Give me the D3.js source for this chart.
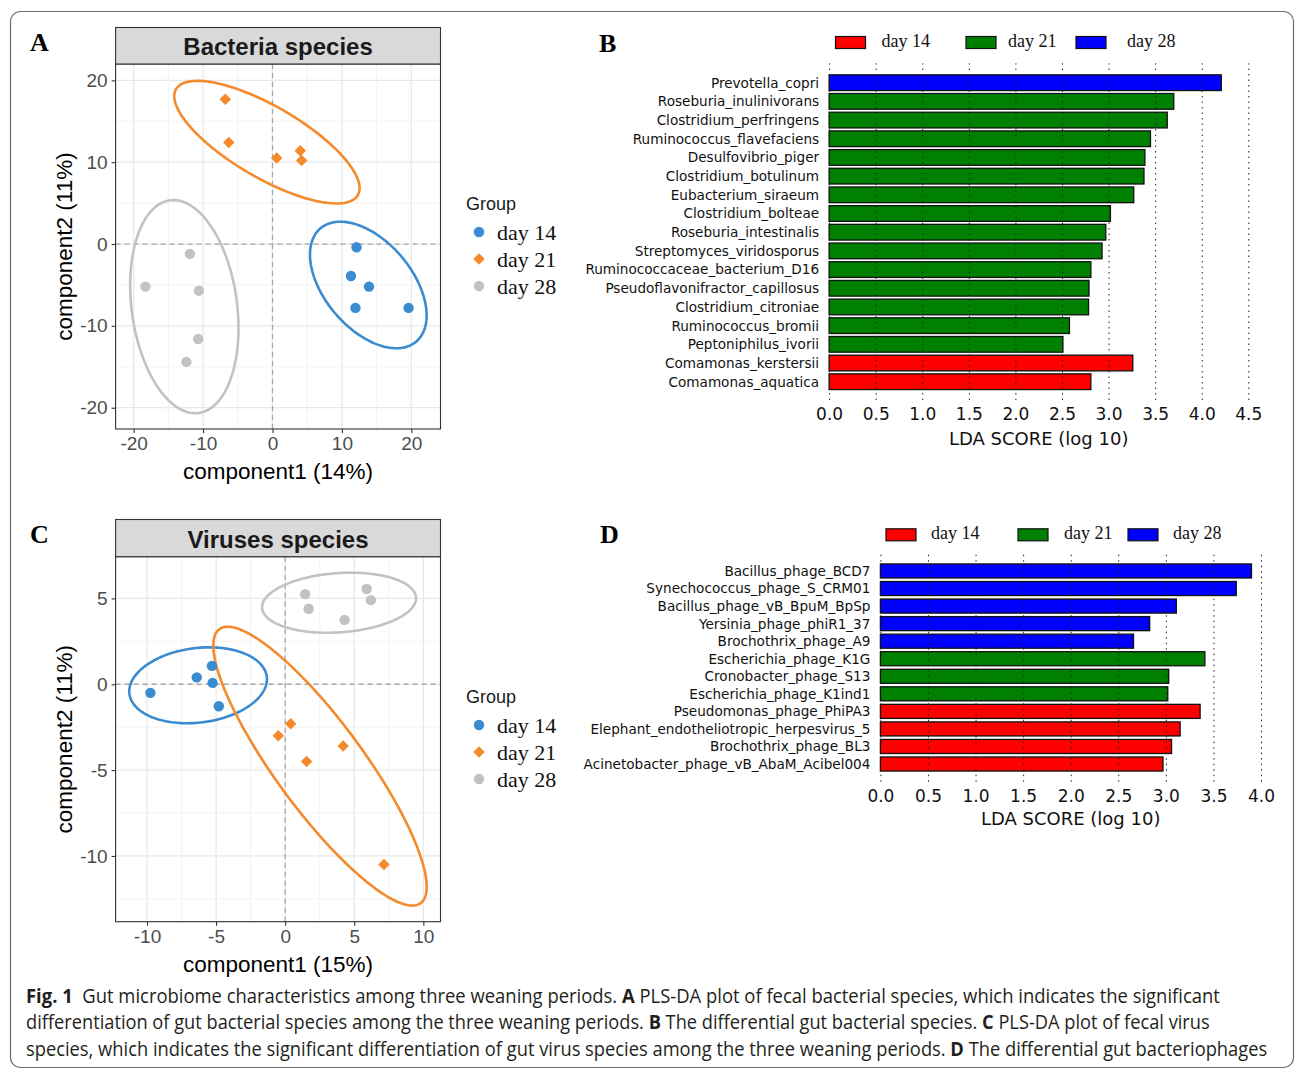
<!DOCTYPE html>
<html>
<head>
<meta charset="utf-8">
<script src="https://cdn.jsdelivr.net/npm/d3@7"></script>
<style>
  body { margin: 0; background: #fff; }
  svg { display: block; }
</style>
</head>
<body>
<script>
// ---------- data ----------
const groups = ['day 14', 'day 21', 'day 28']

// A: PLS-DA scores of bacterial species, [component1, component2]
const bacteriaDay14 = [[12.1, -0.4], [11.3, -3.9], [13.9, -5.2], [11.95, -7.8], [19.6, -7.8]]
const bacteriaDay21 = [[-6.8, 17.7], [-6.3, 12.4], [0.6, 10.5], [4.0, 11.4], [4.2, 10.2]]
const bacteriaDay28 = [[-11.9, -1.2], [-18.3, -5.2], [-10.6, -5.7], [-10.7, -11.6], [-12.4, -14.4]]
// ellipses per group: centre x, centre y, half width, half height, correlation
const bacteriaEllipses = [
    [13.8, -5.0, 8.4, 7.73, -0.48],
    [-0.8, 12.45, 13.35, 7.49, -0.75],
    [-12.7, -7.65, 7.8, 13.02, -0.2],
]
const bacteriaXDomain = [-22.6, 24.2]
const bacteriaYDomain = [-22.6, 22.0]
const bacteriaXTicks = [-20, -10, 0, 10, 20]
const bacteriaYTicks = [-20, -10, 0, 10, 20]

// C: PLS-DA scores of virus species
const virusDay14 = [[-9.75, -0.5], [-6.4, 0.4], [-5.3, 1.07], [-5.25, 0.08], [-4.8, -1.28]]
const virusDay21 = [[0.4, -2.3], [-0.5, -3.0], [4.2, -3.6], [1.55, -4.5], [7.15, -10.5]]
const virusDay28 = [[1.45, 5.25], [1.7, 4.4], [4.3, 3.75], [5.9, 5.55], [6.2, 4.9]]
const virusEllipses = [
    [-6.3, -0.06, 4.98, 2.21, 0.16],
    [2.52, -4.77, 7.72, 8.12, -0.865],
    [3.9, 4.75, 5.57, 1.75, 0.15],
]
const virusXDomain = [-12.27, 11.24]
const virusYDomain = [-13.83, 7.43]
const virusXTicks = [-10, -5, 0, 5, 10]
const virusYTicks = [-10, -5, 0, 5]

// B: LEfSe, differential bacterial species
const bacteriaSpecies = [
    'Prevotella_copri', 'Roseburia_inulinivorans', 'Clostridium_perfringens',
    'Ruminococcus_flavefaciens', 'Desulfovibrio_piger', 'Clostridium_botulinum',
    'Eubacterium_siraeum', 'Clostridium_bolteae', 'Roseburia_intestinalis',
    'Streptomyces_viridosporus', 'Ruminococcaceae_bacterium_D16',
    'Pseudoflavonifractor_capillosus', 'Clostridium_citroniae', 'Ruminococcus_bromii',
    'Peptoniphilus_ivorii', 'Comamonas_kerstersii', 'Comamonas_aquatica',
]
const bacteriaLda = [4.21, 3.70, 3.63, 3.45, 3.39, 3.38, 3.27, 3.02, 2.97, 2.93, 2.81, 2.79, 2.785, 2.58, 2.51, 3.26, 2.81]
const bacteriaEnriched = [
    'day 28', 'day 21', 'day 21', 'day 21', 'day 21', 'day 21', 'day 21', 'day 21', 'day 21',
    'day 21', 'day 21', 'day 21', 'day 21', 'day 21', 'day 21', 'day 14', 'day 14',
]
const bacteriaLdaTicks = [0, 0.5, 1, 1.5, 2, 2.5, 3, 3.5, 4, 4.5]

// D: LEfSe, differential bacteriophages
const phageSpecies = [
    'Bacillus_phage_BCD7', 'Synechococcus_phage_S_CRM01', 'Bacillus_phage_vB_BpuM_BpSp',
    'Yersinia_phage_phiR1_37', 'Brochothrix_phage_A9', 'Escherichia_phage_K1G',
    'Cronobacter_phage_S13', 'Escherichia_phage_K1ind1', 'Pseudomonas_phage_PhiPA3',
    'Elephant_endotheliotropic_herpesvirus_5', 'Brochothrix_phage_BL3',
    'Acinetobacter_phage_vB_AbaM_Acibel004',
]
const phageLda = [3.90, 3.74, 3.11, 2.83, 2.66, 3.41, 3.03, 3.02, 3.36, 3.15, 3.06, 2.97]
const phageEnriched = [
    'day 28', 'day 28', 'day 28', 'day 28', 'day 28', 'day 21', 'day 21', 'day 21',
    'day 14', 'day 14', 'day 14', 'day 14',
]
const phageLdaTicks = [0, 0.5, 1, 1.5, 2, 2.5, 3, 3.5, 4]

const captionLines = [
    [['Fig. 1', true], ['  Gut microbiome characteristics among three weaning periods. ', false], ['A', true],
        [' PLS-DA plot of fecal bacterial species, which indicates the significant', false]],
    [['differentiation of gut bacterial species among the three weaning periods. ', false], ['B', true],
        [' The differential gut bacterial species. ', false], ['C', true], [' PLS-DA plot of fecal virus', false]],
    [['species, which indicates the significant differentiation of gut virus species among the three weaning periods. ', false],
        ['D', true], [' The differential gut bacteriophages', false]],
]

// ---------- styles ----------
const scatterColor = d3.scaleOrdinal().domain(groups).range(['#3a8bd0', '#f58a2c', '#c2c2c2'])
const barColor = d3.scaleOrdinal().domain(groups).range(['#ff0000', '#008000', '#0000ff'])
const sans = '"Liberation Sans", Arial, sans-serif'
const serif = '"Liberation Serif", "Times New Roman", serif'
const mpl = '"DejaVu Sans", sans-serif'

const diamond = {
    draw(ctx, size) {
        const r = Math.sqrt(size / 2)
        ctx.moveTo(0, -r)
        ctx.lineTo(r, 0)
        ctx.lineTo(0, r)
        ctx.lineTo(-r, 0)
        ctx.closePath()
    },
}
const groupSymbol = d3.scaleOrdinal().domain(groups).range([
    d3.symbol(d3.symbolCircle, 85)(),
    d3.symbol(diamond, 66)(),
    d3.symbol(d3.symbolCircle, 85)(),
])

const svg = d3.select('body').append('svg')
    .attr('width', 1295)
    .attr('height', 1071)

svg.append('rect').attr('width', 1295).attr('height', 1071).attr('fill', '#fff')

// figure frame
svg.append('rect')
    .attr('x', 10.5).attr('y', 11.5)
    .attr('width', 1283).attr('height', 1056)
    .attr('rx', 10)
    .attr('fill', 'none')
    .attr('stroke', '#6e6e6e')
    .attr('stroke-width', 1.2)

// ---------- scatter panels (A, C) ----------
function minorBreaks(ticks, domain) {
    const step = ticks[1] - ticks[0]
    const out = []
    for (let v = ticks[0] - step / 2; v <= domain[1]; v += step) {
        if (v >= domain[0]) out.push(v)
    }
    return out
}

function scatterPanel(cfg) {
    const x = d3.scaleLinear().domain(cfg.xDomain).range([cfg.left, cfg.right])
    const y = d3.scaleLinear().domain(cfg.yDomain).range([cfg.bottom, cfg.top])
    const g = svg.append('g')

    // grid
    const grid = g.append('g')
    minorBreaks(cfg.xTicks, cfg.xDomain).forEach((v) => {
        grid.append('line').attr('x1', x(v)).attr('x2', x(v)).attr('y1', cfg.top).attr('y2', cfg.bottom)
            .attr('stroke', '#f0f0f0').attr('stroke-width', 0.8)
    })
    minorBreaks(cfg.yTicks, cfg.yDomain).forEach((v) => {
        grid.append('line').attr('y1', y(v)).attr('y2', y(v)).attr('x1', cfg.left).attr('x2', cfg.right)
            .attr('stroke', '#f0f0f0').attr('stroke-width', 0.8)
    })
    cfg.xTicks.forEach((v) => {
        grid.append('line').attr('x1', x(v)).attr('x2', x(v)).attr('y1', cfg.top).attr('y2', cfg.bottom)
            .attr('stroke', '#e8e8e8').attr('stroke-width', 1.2)
    })
    cfg.yTicks.forEach((v) => {
        grid.append('line').attr('y1', y(v)).attr('y2', y(v)).attr('x1', cfg.left).attr('x2', cfg.right)
            .attr('stroke', '#e8e8e8').attr('stroke-width', 1.2)
    })

    // zero reference lines
    g.append('line').attr('x1', x(0)).attr('x2', x(0)).attr('y1', cfg.top).attr('y2', cfg.bottom)
        .attr('stroke', '#a6a6a6').attr('stroke-width', 1.3).attr('stroke-dasharray', '5,4')
    g.append('line').attr('y1', y(0)).attr('y2', y(0)).attr('x1', cfg.left).attr('x2', cfg.right)
        .attr('stroke', '#a6a6a6').attr('stroke-width', 1.3).attr('stroke-dasharray', '5,4')

    // ellipses
    const angles = d3.range(0, 2 * Math.PI, Math.PI / 90)
    const ellipse = d3.line().curve(d3.curveLinearClosed)
    cfg.ellipses.forEach((e, i) => {
        const [cx, cy, hx, hy, rho] = e
        const pts = angles.map((t) => [
            x(cx + hx * Math.cos(t)),
            y(cy + hy * (rho * Math.cos(t) + Math.sqrt(1 - rho * rho) * Math.sin(t))),
        ])
        g.append('path').attr('d', ellipse(pts))
            .attr('fill', 'none')
            .attr('stroke', scatterColor(groups[i]))
            .attr('stroke-width', 2.6)
    })

    // points
    cfg.points.forEach((pts, i) => {
        g.append('g').selectAll('path').data(pts).join('path')
            .attr('d', groupSymbol(groups[i]))
            .attr('transform', (d) => `translate(${x(d[0])},${y(d[1])})`)
            .attr('fill', scatterColor(groups[i]))
    })

    // panel border
    g.append('rect')
        .attr('x', cfg.left).attr('y', cfg.top)
        .attr('width', cfg.right - cfg.left).attr('height', cfg.bottom - cfg.top)
        .attr('fill', 'none').attr('stroke', '#333').attr('stroke-width', 1.1)

    // strip
    g.append('rect')
        .attr('x', cfg.left).attr('y', cfg.stripTop)
        .attr('width', cfg.right - cfg.left).attr('height', cfg.top - cfg.stripTop)
        .attr('fill', '#d9d9d9').attr('stroke', '#333').attr('stroke-width', 1.1)
    g.append('text')
        .attr('x', (cfg.left + cfg.right) / 2)
        .attr('y', cfg.top - 9)
        .attr('text-anchor', 'middle')
        .style('font', `bold 24px ${sans}`)
        .attr('fill', '#1a1a1a')
        .text(cfg.title)

    // axes
    const xAxis = g.append('g')
        .attr('transform', `translate(0,${cfg.bottom})`)
        .call(d3.axisBottom(x).tickValues(cfg.xTicks).tickSize(4).tickPadding(4).tickFormat(d3.format('d')))
    const yAxis = g.append('g')
        .attr('transform', `translate(${cfg.left},0)`)
        .call(d3.axisLeft(y).tickValues(cfg.yTicks).tickSize(4).tickPadding(4).tickFormat(d3.format('d')))
    ;[xAxis, yAxis].forEach((a) => {
        a.select('.domain').remove()
        a.selectAll('line').attr('stroke', '#333').attr('stroke-width', 1.1)
        a.selectAll('text').attr('fill', '#4d4d4d').style('font', `19px ${sans}`)
    })
    // ggplot prints the minus sign as hyphen
    ;[xAxis, yAxis].forEach((a) => a.selectAll('text').text((d) => String(d)))

    g.append('text')
        .attr('x', (cfg.left + cfg.right) / 2)
        .attr('y', cfg.bottom + 50)
        .attr('text-anchor', 'middle')
        .style('font', `22.5px ${sans}`)
        .text(cfg.xLabel)
    g.append('text')
        .attr('transform', `translate(${cfg.left - 44},${(cfg.top + cfg.bottom) / 2}) rotate(-90)`)
        .attr('text-anchor', 'middle')
        .style('font', `22.5px ${sans}`)
        .text(cfg.yLabel)

    // legend
    const lg = g.append('g').attr('transform', `translate(466,${cfg.legendTop})`)
    lg.append('text').attr('x', 0).attr('y', 6).style('font', `18px ${sans}`).attr('fill', '#1a1a1a').text('Group')
    groups.forEach((grp, i) => {
        const cy = 28 + i * 27
        lg.append('path').attr('d', groupSymbol(grp))
            .attr('transform', `translate(13,${cy})`)
            .attr('fill', scatterColor(grp))
        lg.append('text').attr('x', 31).attr('y', cy + 7.5)
            .style('font', `22px ${serif}`).attr('fill', '#111').text(grp)
    })

    // panel letter
    svg.append('text').attr('x', cfg.letterX).attr('y', cfg.letterY)
        .style('font', `bold 26px ${serif}`).text(cfg.letter)
}

scatterPanel({
    left: 115.6, right: 440.5, stripTop: 27.5, top: 64, bottom: 429,
    xDomain: bacteriaXDomain, yDomain: bacteriaYDomain,
    xTicks: bacteriaXTicks, yTicks: bacteriaYTicks,
    points: [bacteriaDay14, bacteriaDay21, bacteriaDay28],
    ellipses: bacteriaEllipses,
    title: 'Bacteria species',
    xLabel: 'component1 (14%)', yLabel: 'component2 (11%)',
    legendTop: 204, letter: 'A', letterX: 30, letterY: 51,
})

scatterPanel({
    left: 115.6, right: 440.5, stripTop: 519.5, top: 556.7, bottom: 921.7,
    xDomain: virusXDomain, yDomain: virusYDomain,
    xTicks: virusXTicks, yTicks: virusYTicks,
    points: [virusDay14, virusDay21, virusDay28],
    ellipses: virusEllipses,
    title: 'Viruses species',
    xLabel: 'component1 (15%)', yLabel: 'component2 (11%)',
    legendTop: 697, letter: 'C', letterX: 30, letterY: 543,
})

// ---------- LDA bar panels (B, D) ----------
function barPanel(cfg) {
    const x = d3.scaleLinear().domain([cfg.ticks[0], cfg.ticks[cfg.ticks.length - 1]]).range([cfg.x0, cfg.x1])
    const y = d3.scaleBand().domain(cfg.names).range([cfg.bandTop, cfg.bandBottom])
        .paddingInner(cfg.pad).paddingOuter(cfg.pad / 2)
    const g = svg.append('g')

    g.append('g').selectAll('rect').data(cfg.names).join('rect')
        .attr('x', x(0))
        .attr('y', (d) => y(d))
        .attr('width', (d, i) => x(cfg.values[i]) - x(0))
        .attr('height', y.bandwidth())
        .attr('fill', (d, i) => barColor(cfg.enriched[i]))
        .attr('stroke', '#111')
        .attr('stroke-width', 1.3)

    g.append('g').selectAll('text').data(cfg.names).join('text')
        .attr('x', cfg.x0 - 10)
        .attr('y', (d) => y(d) + y.bandwidth() / 2)
        .attr('dy', '0.36em')
        .attr('text-anchor', 'end')
        .style('font', `${cfg.labelSize}px ${mpl}`)
        .attr('fill', '#111')
        .text((d) => d)

    // dotted grid on top of the bars
    const axis = g.append('g')
        .attr('transform', `translate(0,${cfg.gridBottom})`)
        .call(d3.axisBottom(x).tickValues(cfg.ticks).tickSize(-(cfg.gridBottom - cfg.gridTop))
            .tickPadding(8).tickFormat(d3.format('.1f')))
    axis.select('.domain').remove()
    axis.selectAll('line').attr('stroke', '#222').attr('stroke-width', 1).attr('stroke-dasharray', '1.5,4')
    axis.selectAll('text').style('font', `17px ${mpl}`).attr('fill', '#111')

    g.append('text')
        .attr('x', (cfg.x0 + cfg.x1) / 2)
        .attr('y', cfg.titleY)
        .attr('text-anchor', 'middle')
        .style('font', `18px ${mpl}`)
        .attr('fill', '#111')
        .text('LDA SCORE (log 10)')

    // legend
    groups.forEach((grp, i) => {
        g.append('rect')
            .attr('x', cfg.legendX[i]).attr('y', cfg.legendY)
            .attr('width', 30).attr('height', 12)
            .attr('fill', barColor(grp)).attr('stroke', '#111').attr('stroke-width', 1.2)
        g.append('text')
            .attr('x', cfg.legendX[i] + cfg.legendGap[i]).attr('y', cfg.legendY + 10)
            .style('font', `18px ${serif}`).attr('fill', '#111').text(grp)
    })

    svg.append('text').attr('x', cfg.letterX).attr('y', cfg.letterY)
        .style('font', `bold 26px ${serif}`).text(cfg.letter)
}

barPanel({
    names: bacteriaSpecies, values: bacteriaLda, enriched: bacteriaEnriched, ticks: bacteriaLdaTicks,
    x0: 829.1, x1: 1248.3, bandTop: 73.35, bandBottom: 391.05, pad: 0.16,
    gridTop: 63.3, gridBottom: 400, titleY: 445, labelSize: 13.6,
    legendX: [835.5, 966, 1076], legendGap: [46, 42, 51], legendY: 36.5,
    letter: 'B', letterX: 599, letterY: 51.5,
})

barPanel({
    names: phageSpecies, values: phageLda, enriched: phageEnriched, ticks: phageLdaTicks,
    x0: 880.4, x1: 1261, bandTop: 562.2, bandBottom: 772.8, pad: 0.2,
    gridTop: 554.3, gridBottom: 781.7, titleY: 825, labelSize: 13.6,
    legendX: [886, 1018, 1128], legendGap: [45, 46, 45], legendY: 528.8,
    letter: 'D', letterX: 600, letterY: 543,
})

// ---------- caption ----------
const capFont = '"Liberation Sans Narrow", "Open Sans", sans-serif'
const captionRight = [1220, 1210, 1268]
captionLines.forEach((segs, i) => {
    const t = svg.append('text')
        .attr('x', 0).attr('y', 0)
        .attr('xml:space', 'preserve')
        .style('font', `19.5px ${capFont}`)
        .style('white-space', 'pre')
        .attr('fill', '#231f20')
    segs.forEach(([s, bold]) => {
        t.append('tspan').attr('font-weight', bold ? 'bold' : 'normal').text(s)
    })
    const w = t.node().getComputedTextLength()
    const sx = (captionRight[i] - 26) / w
    t.attr('transform', `translate(26,${1003 + i * 26.3}) scale(${sx},1)`)
})
</script>
</body>
</html>
